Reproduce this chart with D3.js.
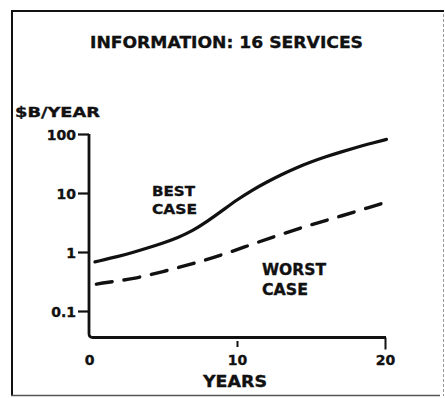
<!DOCTYPE html>
<html>
<head>
<meta charset="utf-8">
<script src="https://cdn.jsdelivr.net/npm/d3@7/dist/d3.min.js"></script>
<style>
  html, body { margin: 0; padding: 0; background: #fff; }
  svg { display: block; }
  text { font-family: "DejaVu Sans", "Liberation Sans", sans-serif; font-weight: bold; fill: #111; stroke: #111; stroke-width: 0.35px; }
</style>
</head>
<body>
<script>
// Projected annual revenue ($ billions) for 16 information services
const bestYears  = [0.4, 2, 3, 4, 5, 6, 7, 8, 9, 10, 11, 12, 13, 14, 15, 16, 17, 18, 19, 20.1];
const bestCase   = [0.68, 0.84, 0.99, 1.18, 1.42, 1.75, 2.28, 3.31, 5.01, 7.67, 11.1, 15.3, 20.5, 26.8, 33.6, 41.2, 49.4, 58.6, 68.8, 81];
const worstYears = [0.5, 1.1, 3, 5, 7, 9, 11, 13, 15, 17, 19, 20];
const worstCase  = [0.285, 0.303, 0.35, 0.465, 0.63, 0.89, 1.35, 2.0, 2.91, 4.03, 5.78, 6.87];
const yTicks     = [0.1, 1, 10, 100];
const yTickText  = ["0.1", "1", "10", "100"];
const xTicks     = [0, 10, 20];

const W = 445, H = 398;
const svg = d3.select("body").append("svg").attr("width", W).attr("height", H);

const x = d3.scaleLinear().domain([0, 20]).range([89, 385]);
const y = d3.scaleLog().domain([0.1, 100]).range([311, 134]);
const xAxisY = 337.5;

// frame
svg.append("line").attr("x1", 11).attr("x2", 444).attr("y1", 11).attr("y2", 11)
  .attr("stroke", "#111").attr("stroke-width", 2.2);
svg.append("line").attr("x1", 12).attr("x2", 12).attr("y1", 10).attr("y2", 396)
  .attr("stroke", "#111").attr("stroke-width", 2);
svg.append("line").attr("x1", 11).attr("x2", 440).attr("y1", 395.5).attr("y2", 395.5)
  .attr("stroke", "#555").attr("stroke-width", 1.5);
svg.append("line").attr("x1", 443.5).attr("x2", 443.5).attr("y1", 14).attr("y2", 396)
  .attr("stroke", "#999").attr("stroke-width", 1).attr("stroke-dasharray", "3,2");

// title
svg.append("text").attr("x", 90).attr("y", 48)
  .attr("textLength", 273).attr("lengthAdjust", "spacingAndGlyphs")
  .style("font-size", "16px").text("INFORMATION:  16 SERVICES");

// y-axis unit
svg.append("text").attr("x", 15).attr("y", 117)
  .attr("textLength", 85).attr("lengthAdjust", "spacingAndGlyphs")
  .style("font-size", "14px").text("$B/YEAR");

// axis lines with rounded corner at origin
svg.append("path")
  .attr("d", `M${x(0)},${y(100)} L${x(0)},${xAxisY - 4} Q${x(0)},${xAxisY} ${x(0) + 4},${xAxisY} L${x(20) + 1},${xAxisY}`)
  .attr("fill", "none").attr("stroke", "#111").attr("stroke-width", 2.8);

// y ticks and labels
const yAxis = d3.axisLeft(y).tickValues(yTicks).tickSize(11).tickPadding(2)
  .tickFormat((d, i) => yTickText[i]);
const gy = svg.append("g").attr("transform", `translate(${x(0)},0)`).call(yAxis);
gy.select(".domain").remove();
gy.selectAll(".tick line").attr("stroke", "#111").attr("stroke-width", 2.2);
gy.selectAll(".tick text").attr("fill", "#111").attr("dy", "0.36em")
  .style("font-size", "14px").style("font-family", "'DejaVu Sans', sans-serif").style("font-weight", "bold");

// x ticks and labels
const xAxis = d3.axisBottom(x).tickValues(xTicks).tickSize(0).tickPadding(0).tickFormat(d3.format("d"));
const gx = svg.append("g").attr("transform", `translate(0,${xAxisY})`).call(xAxis);
gx.select(".domain").remove();
gx.selectAll(".tick line")
  .attr("y1", d => d === 10 ? 3.5 : 0)
  .attr("y2", d => d === 0 ? 0 : (d === 10 ? 9.5 : 12))
  .attr("stroke", "#111").attr("stroke-width", 2);
gx.selectAll(".tick text").attr("fill", "#111").attr("y", 27.5).attr("dy", null)
  .style("font-size", "14px").style("font-family", "'DejaVu Sans', sans-serif").style("font-weight", "bold");

// x-axis title
svg.append("text").attr("x", 203).attr("y", 387)
  .attr("textLength", 64).attr("lengthAdjust", "spacingAndGlyphs")
  .style("font-size", "15px").text("YEARS");

// curves (B-spline through the yearly estimates for a smooth hand-drawn look)
const line = d3.line().curve(d3.curveBasis);

svg.append("path")
  .attr("d", line(bestYears.map((t, i) => [x(t), y(bestCase[i])])))
  .attr("fill", "none").attr("stroke", "#111").attr("stroke-width", 3.2)
  .attr("stroke-linecap", "round");

svg.append("path")
  .attr("d", line(worstYears.map((t, i) => [x(t), y(worstCase[i])])))
  .attr("fill", "none").attr("stroke", "#111").attr("stroke-width", 3.4)
  .attr("stroke-linecap", "round").attr("stroke-dasharray", "16,12");

// curve labels
const label = (txt, lx, ly, len, fs) => svg.append("text").attr("x", lx).attr("y", ly)
  .attr("textLength", len).attr("lengthAdjust", "spacingAndGlyphs")
  .style("font-size", fs + "px").text(txt);
label("BEST", 152, 196, 43, 14);
label("CASE", 152, 214, 45, 14);
label("WORST", 262, 275, 64, 15);
label("CASE", 262, 295, 46, 15);
</script>
</body>
</html>
